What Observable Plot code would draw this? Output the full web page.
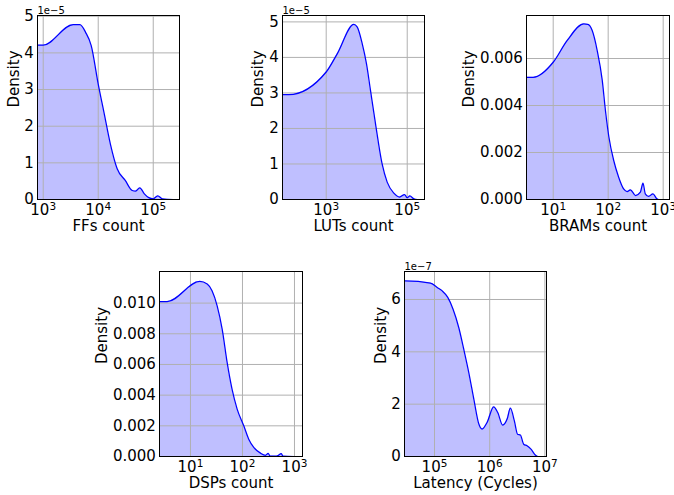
<!DOCTYPE html>
<html><head><meta charset="utf-8">
<script src="https://cdn.jsdelivr.net/npm/d3@7"></script>
<script src="https://cdn.jsdelivr.net/npm/@observablehq/plot@0.6"></script>
<style>
html,body{margin:0;padding:0;background:#fff;}
#fig{position:relative;width:674px;height:495px;overflow:hidden;background:#fff;font-family:"DejaVu Sans";}
#fig svg{position:absolute;overflow:visible;font-family:"DejaVu Sans" !important;font-size:15px !important;max-width:none !important;}
</style></head><body><div id="fig"></div>
<script>
// ---- data (density values; FFs/LUTs in units of 1e-5, Latency in 1e-7) ----
const ffCount   = [100, 1000, 3500, 4650, 5900, 7460, 10000, 12900, 16600, 22100, 31000, 41500, 47900, 57000, 69000, 83000, 100000, 121000, 146000, 231000];
const ffDensity = [4.2, 4.21, 4.77, 4.77, 4.56, 4.2, 3.15, 2.33, 1.52, 0.84, 0.52, 0.245, 0.23, 0.32, 0.155, 0.05, 0.02, 0.1, 0.02, 0];

const lutCount   = [10, 119, 1000, 1870, 4800, 5800, 7740, 9880, 12400, 16500, 24000, 32000, 46800, 64600, 86000, 100000, 116000, 146000, 178000];
const lutDensity = [2.95, 2.95, 3.59, 4.1, 4.93, 4.86, 4.39, 3.82, 3.07, 2.13, 1.0, 0.49, 0.18, 0.07, 0.14, 0.05, 0.1, 0.02, 0];

const bramCount   = [1, 4.33, 10, 18, 36, 42.6, 51, 63, 78, 89, 103, 126, 155, 191, 221, 254, 315, 385, 430, 473, 543, 653, 767, 820];
const bramDensity = [0.0052, 0.0052, 0.00584, 0.00677, 0.00747, 0.00745, 0.0072, 0.00635, 0.00507, 0.0038, 0.00266, 0.00166, 0.00095, 0.00045, 0.00034, 0.00041, 0.00017, 0.00031, 0.0007, 0.00024, 0.00013, 0.00024, 0.00003, 0];

const dspCount   = [0.5, 3.57, 15.1, 21, 26, 32.6, 40.7, 50.7, 63, 79, 106, 132, 165, 222, 277, 312, 340, 450, 560, 600, 1000];
const dspDensity = [0.0101, 0.0101, 0.01141, 0.01124, 0.0108, 0.00982, 0.0083, 0.00613, 0.00439, 0.00309, 0.002, 0.00113, 0.00059, 0.00022, 0.00008, 0.0002, 0.00003, 0.00002, 0.00018, 0.00002, 0];

const latCycles  = [5000, 29000, 84500, 112000, 138000, 174000, 217000, 275000, 339000, 418000, 516000, 636000, 728000, 897000, 1180000, 1400000, 1720000, 2070000, 2370000, 2800000, 3200000, 3600000, 4130000, 4750000, 5600000, 6700000, 7400000];
const latDensity = [6.72, 6.71, 6.63, 6.46, 6.33, 6.08, 5.63, 4.93, 4.1, 3.21, 2.19, 1.24, 1.05, 1.3, 1.9, 1.68, 1.2, 1.43, 1.85, 1.36, 0.85, 0.82, 0.47, 0.41, 0.28, 0.06, 0];

// ---- tick labels ----
const ffXTicks = [1e3, 1e4, 1e5],  ffYTicks = [0, 1, 2, 3, 4, 5];
const lutXTicks = [1e3, 1e5],      lutYTicks = [0, 1, 2, 3, 4, 5];
const bramXTicks = [1e1, 1e2, 1e3], bramYTicks = [0, 0.002, 0.004, 0.006];
const dspXTicks = [1e1, 1e2, 1e3], dspYTicks = [0, 0.002, 0.004, 0.006, 0.008, 0.010];
const latXTicks = [1e5, 1e6, 1e7], latYTicks = [0, 2, 4, 6];

const fmtPow = d => "10^" + Math.round(Math.log10(d));
const fmtInt = d => String(d);
const fmt3 = d => d.toFixed(3);

const panels = [
  {x: ffCount, y: ffDensity, xTicks: ffXTicks, yTicks: ffYTicks, yFmt: fmtInt, xDomain: [788, 3.0e5], yMax: 5.02,
   xLabel: "FFs count", offset: "1e\u22125", frame: [37, 15, 179, 199], yLabelOff: 23.5},
  {x: lutCount, y: lutDensity, xTicks: lutXTicks, yTicks: lutYTicks, yFmt: fmtInt, xDomain: [83.4, 2.67e5], yMax: 5.18,
   xLabel: "LUTs count", offset: "1e\u22125", frame: [282, 15, 424, 199], yLabelOff: 24},
  {x: bramCount, y: bramDensity, xTicks: bramXTicks, yTicks: bramYTicks, yFmt: fmt3, xDomain: [3.27, 1303], yMax: 0.00783,
   xLabel: "BRAMs count", offset: null, frame: [526, 15, 669, 199], yLabelOff: 57},
  {x: dspCount, y: dspDensity, xTicks: dspXTicks, yTicks: dspYTicks, yFmt: fmt3, xDomain: [2.54, 1426], yMax: 0.01206,
   xLabel: "DSPs count", offset: null, frame: [159, 271, 302, 456], yLabelOff: 57},
  {x: latCycles, y: latDensity, xTicks: latXTicks, yTicks: latYTicks, yFmt: fmtInt, xDomain: [2.86e4, 1.07e7], yMax: 7.07,
   xLabel: "Latency (Cycles)", offset: "1e\u22127", frame: [404, 271, 546, 456], yLabelOff: 23.5}
];

const fig = document.getElementById("fig");
const ML = 70, MT = 20, MR = 15, MB = 45;
const BLUE = "#0000ff";
for (const p of panels) {
  const [l, t, r, b] = p.frame;
  const data = p.x.map((x, i) => ({x, y: p.y[i]}));
  const marks = [
    Plot.areaY(data, {x: "x", y: "y", fill: BLUE, fillOpacity: 0.25, curve: "monotone-x", clip: true}),
    Plot.gridX(p.xTicks, {stroke: "#b0b0b0", strokeOpacity: 1, strokeWidth: 1}),
    Plot.gridY(p.yTicks, {stroke: "#b0b0b0", strokeOpacity: 1, strokeWidth: 1}),
    Plot.lineY(data, {x: "x", y: "y", stroke: BLUE, strokeWidth: 1.25, curve: "monotone-x", clip: true}),
    Plot.frame({stroke: "black", strokeWidth: 1}),
    Plot.axisX(p.xTicks, {tickSize: 0, tickPadding: 5, tickFormat: fmtPow, label: null}),
    Plot.axisY(p.yTicks, {tickSize: 0, tickPadding: 3.6, tickFormat: p.yFmt, label: null}),
    Plot.text([p.xLabel], {frameAnchor: "bottom", text: d => d, dy: 27, lineAnchor: "middle", fill: "black"}),
    Plot.text(["Density"], {frameAnchor: "left", text: d => d, rotate: -90, dx: -p.yLabelOff, lineAnchor: "middle", fill: "black"})
  ];
  if (p.offset) marks.push(Plot.text([p.offset], {frameAnchor: "top-left", text: d => d, textAnchor: "start", lineAnchor: "bottom", dy: -1.5, fontSize: 10, fill: "black"}));
  const chart = Plot.plot({
    width: ML + (r - l) + MR, height: MT + (b - t) + MB,
    marginLeft: ML, marginTop: MT, marginRight: MR, marginBottom: MB,
    style: "font-family:'DejaVu Sans';font-size:15px;background:transparent;color:black;overflow:visible;",
    x: {type: "log", domain: p.xDomain},
    y: {domain: [0, p.yMax]},
    marks
  });
  // render "10^k" tick labels as 10 with a raised, smaller exponent (like mathtext)
  chart.querySelectorAll("text").forEach(tx => {
    const s = tx.textContent;
    const m = /^10\^(\d+)$/.exec(s);
    if (!m) return;
    tx.textContent = "10";
    const ts = document.createElementNS("http://www.w3.org/2000/svg", "tspan");
    ts.setAttribute("font-size", "10.5px");
    ts.setAttribute("dy", "-5.5");
    ts.style.fontSize = "10.5px";
    ts.textContent = m[1];
    tx.appendChild(ts);
  });
  chart.style.left = (l - ML) + "px";
  chart.style.top = (t - MT) + "px";
  fig.appendChild(chart);
}
</script></body></html>
